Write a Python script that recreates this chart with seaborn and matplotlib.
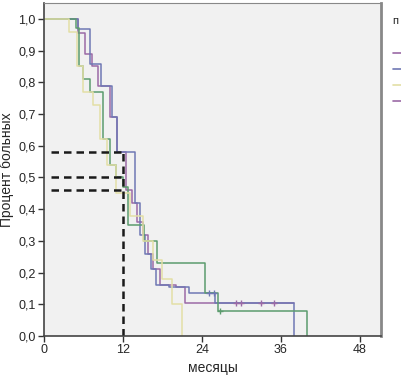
import matplotlib
matplotlib.use("Agg")
import matplotlib.pyplot as plt
import numpy as np
import pandas as pd
import seaborn as sns

# step points (month of drop, survival after drop)
purple_t = [0, 5.2, 6.2, 7.3, 8.2, 10.0, 11.1, 12.4, 13.4, 14.2, 15.0, 15.8, 16.6, 17.6, 20.0, 21.5, 38.0]
purple_s = [1.0, 0.955, 0.89, 0.85, 0.79, 0.69, 0.58, 0.46, 0.42, 0.36, 0.32, 0.26, 0.21, 0.16, 0.155, 0.105, 0.105]

blue_t = [0, 5.2, 7.0, 8.6, 10.4, 11.1, 13.8, 14.6, 15.4, 16.2, 17.0, 19.0, 22.0, 26.0, 38.0]
blue_s = [1.0, 0.968, 0.858, 0.79, 0.69, 0.58, 0.42, 0.32, 0.26, 0.21, 0.16, 0.155, 0.135, 0.105, 0.0]

green_t = [0, 4.8, 5.3, 6.0, 7.0, 9.0, 10.0, 11.0, 12.0, 12.8, 15.2, 17.2, 24.5, 26.5, 40.0]
green_s = [1.0, 0.97, 0.85, 0.81, 0.77, 0.62, 0.54, 0.50, 0.47, 0.35, 0.30, 0.23, 0.135, 0.08, 0.0]

yellow_t = [0, 3.8, 5.0, 6.0, 7.5, 8.5, 9.5, 11.0, 13.0, 15.0, 16.5, 18.0, 19.5, 21.0]
yellow_s = [1.0, 0.96, 0.85, 0.77, 0.73, 0.62, 0.54, 0.45, 0.38, 0.30, 0.24, 0.18, 0.10, 0.0]

# censored observations
purple_cens_t = [29.2, 30.0, 33.0, 35.0]
purple_cens_s = [0.105, 0.105, 0.105, 0.105]
blue_cens_t = [25.0, 25.8]
blue_cens_s = [0.135, 0.135]
green_cens_t = [26.8]
green_cens_s = [0.08]

ref_month = 12
ref_levels = [0.58, 0.50, 0.46]
ref_start = 1.0

x_ticks = [0, 12, 24, 36, 48]
y_ticks = [0.0, 0.1, 0.2, 0.3, 0.4, 0.5, 0.6, 0.7, 0.8, 0.9, 1.0]

colors = {"1": "#9b6aa6", "2": "#6f78b4", "3": "#5c9c6e", "4": "#e3dfa6"}

sns.set_style("white")
plt.rcParams["font.family"] = ["Liberation Sans", "DejaVu Sans"]

curves = pd.concat([
    pd.DataFrame({"t": purple_t, "s": purple_s, "g": "1"}),
    pd.DataFrame({"t": blue_t, "s": blue_s, "g": "2"}),
    pd.DataFrame({"t": green_t, "s": green_s, "g": "3"}),
    pd.DataFrame({"t": yellow_t, "s": yellow_s, "g": "4"}),
])

fig = plt.figure(figsize=(4.02, 3.81), dpi=100)
ax = fig.add_axes([0.1095, 0.118, 0.838, 0.874])
ax.set_facecolor("#f1f1f1")

sns.lineplot(data=curves, x="t", y="s", hue="g", palette=colors, estimator=None,
             sort=False, drawstyle="steps-post", lw=1.1, ax=ax, legend=False)

ax.plot(purple_cens_t, purple_cens_s, "+", color=colors["1"], ms=4, mew=1)
ax.plot(blue_cens_t, blue_cens_s, "+", color=colors["2"], ms=4, mew=1)
ax.plot(green_cens_t, green_cens_s, "+", color=colors["3"], ms=4, mew=1)

for lev in ref_levels:
    ax.plot([ref_start, ref_month], [lev, lev], color="#1a1a1a", lw=1.8, ls=(0, (3, 2)))
ax.plot([ref_month, ref_month], [0, max(ref_levels)], color="#1a1a1a", lw=1.8, ls=(0, (3, 2)))

ax.set_xlim(0, 51.2)
ax.set_ylim(0, 1.05)
ax.set_xticks(x_ticks)
ax.set_yticks(y_ticks)
ax.set_yticklabels([f"{v:.1f}".replace(".", ",") for v in y_ticks])
ax.tick_params(axis="both", direction="out", length=4, width=1, color="#333333",
               labelsize=9, pad=2, left=True, bottom=True)
ax.set_xlabel("месяцы", fontsize=10, labelpad=3)
ax.set_ylabel("Процент больных", fontsize=10, labelpad=3)

for side in ["left", "bottom"]:
    ax.spines[side].set_color("#444444")
    ax.spines[side].set_linewidth(1.2)
ax.spines["top"].set_color("#888888")
ax.spines["right"].set_color("#888888")
ax.spines["right"].set_linewidth(2)

# legend title, entries cut off by the right edge as in the original
fig.text(0.975, 0.945, "п", fontsize=8, ha="left", va="center")
handles = [plt.Line2D([], [], color=colors[k], lw=1.2, drawstyle="steps-post") for k in ["1", "2", "4", "1"]]
fig.legend(handles, ["", "", "", ""], loc="upper left",
           bbox_to_anchor=(0.955, 0.895), frameon=False, fontsize=8,
           handlelength=0.8, handletextpad=0.5, labelspacing=0.55, borderpad=0.3)

fig.savefig("out.png", dpi=100)
